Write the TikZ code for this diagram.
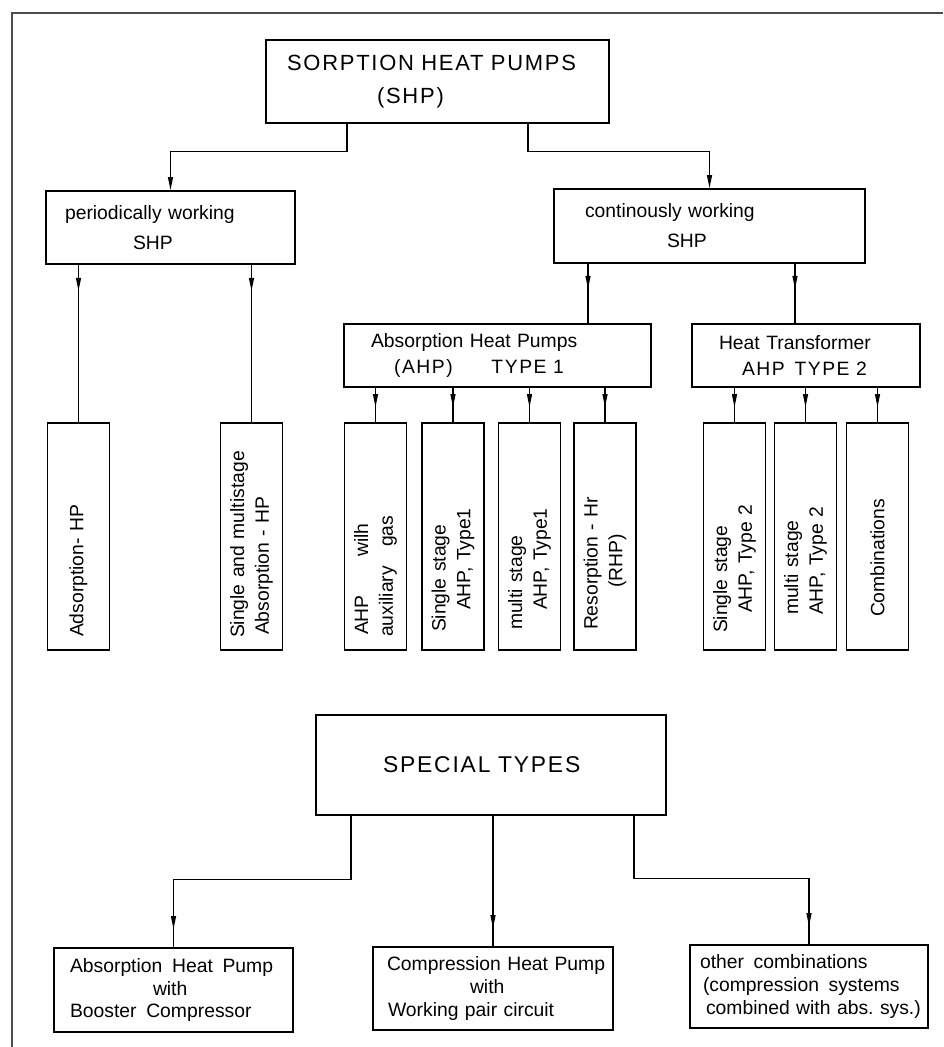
\documentclass[tikz,border=0pt]{standalone}
\usepackage{fontspec}
\setmainfont{Liberation Sans}
\newfontfamily\capsfont[LetterSpace=8]{Liberation Sans}
\usetikzlibrary{arrows.meta,decorations.markings}

\tikzset{
  box/.style={draw, line width=1pt, inner sep=0pt, align=left,
    font=\fontsize{11}{15.3}\selectfont},
  vbox/.style={box, rotate=90, text width=4.54cm, minimum height=1.24cm,
    font=\fontsize{11}{14}\selectfont},
  conn/.style={line width=0.7pt},
  frame/.style={line width=0.6pt, black!70},
  tipat/.style={postaction={decorate}, decoration={markings,
    mark=at position #1 with {\arrow{Triangle[length=0.26cm,width=0.1cm]}}}},
}

\begin{document}
\begin{tikzpicture}[x=0.02cm, y=-0.02cm, >={Triangle[length=0.26cm,width=0.1cm]}]
    \useasboundingbox (0,0) rectangle (943,1047);
    \draw[frame] (12,1047) -- (12,13) -- (943,13);

    % upper tree
    \node[box, text width=6.86cm, minimum height=1.66cm,
          font=\capsfont\fontsize{12.5}{18.7}\selectfont] (shp) at (437.5,81.5)
        {\hspace*{0.42cm}SORPTION HEAT PUMPS\\\hspace*{2.22cm}(SHP)};

    \node[box, text width=4.98cm, minimum height=1.46cm,
          font=\fontsize{11}{17}\selectfont] (per) at (170.5,227.5)
        {\hspace*{0.38cm}periodically working\\\hspace*{1.74cm}SHP};
    \node[box, text width=6.22cm, minimum height=1.48cm,
          font=\fontsize{11}{17}\selectfont] (cont) at (709.5,226)
        {\hspace*{0.62cm}continously working\\\hspace*{2.26cm}SHP};

    \node[box, text width=6.14cm, minimum height=1.26cm] (ahp1) at (497.5,355.5)
        {\hspace*{0.54cm}Absorption Heat Pumps\\\hspace*{1.0cm}{\capsfont(AHP)\qquad TYPE 1}};
    \node[box, text width=4.56cm, minimum height=1.26cm] (ahp2) at (806,355.5)
        {\hspace*{0.54cm}Heat Transformer\\\hspace*{1.0cm}{\capsfont AHP\enspace TYPE 2}};

    \node[vbox] (ads) at (78.5,536.5) {\hspace*{0.26cm}Adsorption- HP};
    \node[vbox] (smh) at (251.5,536.5)
        {\hspace*{0.24cm}Single and multistage\\\hspace*{0.3cm}Absorption - HP};
    \node[vbox] (aux) at (375.5,536.5)
        {\hspace*{0.3cm}AHP\qquad wilh\\\hspace*{0.26cm}auxiliary\quad gas};
    \node[vbox] (st1) at (453,536.5)
        {\hspace*{0.36cm}Single stage\\\hspace*{0.8cm}AHP, Type1};
    \node[vbox] (mt1) at (529.5,536.5)
        {\hspace*{0.4cm}multi stage\\\hspace*{0.8cm}AHP, Type1};
    \node[vbox] (res) at (605,536.5)
        {\hspace*{0.4cm}Resorption - Hr\\\hspace*{1.24cm}(RHP)};
    \node[vbox] (st2) at (734.5,536.5)
        {\hspace*{0.34cm}Single stage\\\hspace*{0.74cm}AHP, Type 2};
    \node[vbox] (mt2) at (805.5,536.5)
        {\hspace*{0.7cm}multi stage\\\hspace*{0.7cm}AHP, Type 2};
    \node[vbox] (comb) at (877.5,536.5) {\hspace*{0.66cm}Combinations};

    \draw[conn,->] ([xshift=-1.81cm]shp.south) -- ++(0,28) -| (per.north);
    \draw[conn,->] ([xshift=1.81cm]shp.south) -- ++(0,28) -| (cont.north);

    \foreach \b in {ads,smh}
        \draw[conn, tipat=0.52cm] (per.south -| \b.east) -- (\b.east);
    \draw[conn, tipat=0.5cm] ([xshift=-2.43cm]cont.south)
        -- ([xshift=-2.43cm]cont.south |- ahp1.north);
    \draw[conn, tipat=0.5cm] ([xshift=1.71cm]cont.south)
        -- ([xshift=1.71cm]cont.south |- ahp2.north);
    \foreach \b in {aux,st1,mt1,res}
        \draw[conn, tipat=-0.3cm] (ahp1.south -| \b.east) -- (\b.east);
    \foreach \b in {st2,mt2,comb}
        \draw[conn, tipat=-0.3cm] (ahp2.south -| \b.east) -- (\b.east);

    % special types
    \node[box, text width=7cm, minimum height=2cm,
          font=\capsfont\fontsize{13}{16}\selectfont] (sp) at (491,765)
        {\hspace*{1.34cm}SPECIAL TYPES};

    \node[box, text width=4.78cm, minimum height=1.68cm,
          font=\fontsize{11}{13}\selectfont] (b1) at (173.5,990)
        {\hspace*{0.32cm}Absorption\enspace Heat\enspace Pump\\\hspace*{1.98cm}with\\
         \hspace*{0.32cm}Booster\enspace Compressor};
    \node[box, text width=4.8cm, minimum height=1.66cm,
          font=\fontsize{11}{13}\selectfont] (b2) at (493,988.5)
        {\hspace*{0.28cm}Compression Heat Pump\\\hspace*{1.94cm}with\\
         \hspace*{0.3cm}Working pair circuit};
    \node[box, text width=4.76cm, minimum height=1.66cm,
          font=\fontsize{11}{13}\selectfont] (b3) at (809,986.5)
        {\hspace*{0.2cm}other\enspace combinations\\\hspace*{0.26cm}(compression\enspace systems\\
         \hspace*{0.32cm}combined with abs.\ sys.)};

    \draw[conn, tipat=-0.36cm] ([xshift=-2.8cm]sp.south) -- ++(0,64) -| (b1.north);
    \draw[conn, tipat=-0.36cm] (sp.south -| b2.north) -- (b2.north);
    \draw[conn, tipat=-0.36cm] ([xshift=2.86cm]sp.south) -- ++(0,63) -| (b3.north);
\end{tikzpicture}
\end{document}
